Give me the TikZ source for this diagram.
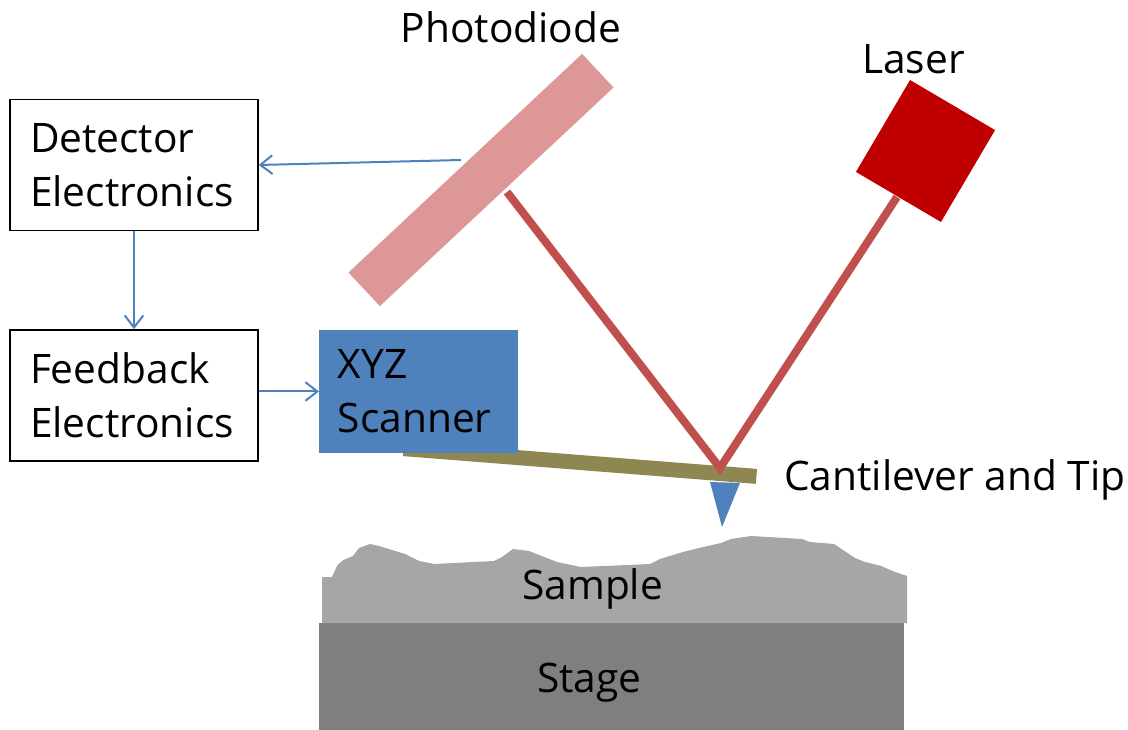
\documentclass[tikz,border=0pt]{standalone}
\usepackage{fontspec}
\setmainfont{Open Sans}
\usetikzlibrary{arrows.meta,calc}
\definecolor{boxblue}{HTML}{4F81BD}
\definecolor{beam}{HTML}{C0504D}
\definecolor{pdcol}{HTML}{DC9796}
\definecolor{lasercol}{HTML}{C00000}
\definecolor{cant}{HTML}{8F8752}
\definecolor{samplecol}{HTML}{A6A6A6}
\definecolor{stagecol}{HTML}{7F7F7F}
\tikzset{
  lbl/.style={inner sep=0pt,font=\fontsize{30.5}{40.5}\selectfont,text=black},
  ebox/.style={lbl,draw=black,line width=1.1pt,fill=white,minimum width=186pt,minimum height=98.5pt,align=left,text width=156pt},
  solid box/.style={inner sep=0pt,outer sep=0pt},
  conn/.style={draw=boxblue,line width=1.5pt,-{Straight Barb[length=9pt,width=14pt,line width=1.5pt]}},
  beamline/.style={draw=beam,line width=6pt},
}
\begin{document}
\begin{tikzpicture}[x=0.75pt,y=-0.75pt]
\useasboundingbox (0,0) rectangle (1128,730);
% stage and sample
\node[solid box,fill=stagecol,minimum width=438.75pt,minimum height=80.25pt] (stage) at (611.5,676.5) {};
\fill[samplecol] (322,577) -- (332,577) -- (337.5,565) -- (343.5,560) -- (353,556) -- (359,548) -- (370,544) -- (379,546) -- (405,554) -- (419,561) -- (434,564) -- (494,561) -- (502,557) -- (513,549) -- (529,551) -- (557,562) -- (581,567) -- (650,564) -- (660,559) -- (683,552) -- (699,548) -- (721,543) -- (731,539) -- (751,536) -- (802,539) -- (810,542) -- (834,544) -- (843,550) -- (855,558) -- (865,562) -- (881,566) -- (895,572) -- (907,576) -- (907,623) -- (322,623) -- cycle;
\node[lbl,anchor=base west] (samplelbl) at (522,599) {Sample};
\node[lbl,anchor=base west] (stagelbl) at (537,692) {Stage};
% cantilever, tip
\node[solid box,fill=cant,minimum width=265.5pt,minimum height=11.25pt,rotate=-4.5] (cantilever) at (580,462.5) {};
\fill[boxblue] (710,482) -- (740,483) -- (722,527) -- cycle;
% scanner
\node[lbl,solid box,fill=boxblue,minimum width=149.25pt,minimum height=92.25pt,align=left,text width=121pt] (scanner) at (418.5,391.5) {XYZ\\Scanner};
% photodiode and laser
\node[solid box,fill=pdcol,minimum width=240pt,minimum height=34.5pt,rotate=43.1] (photodiode) at (481,180) {};
\node[solid box,fill=lasercol,minimum width=74pt,minimum height=80pt,rotate=-30.5] (laser) at (925.5,151) {};
% beam
\coordinate (bpd) at (507,192);
\coordinate (bhit) at (720,468);
\coordinate (blas) at (897,197);
\draw[beamline,line join=miter] (bpd) -- (bhit) -- (blas);
% electronics
\node[ebox] (detector) at (134,165) {Detector\\Electronics};
\node[ebox] (feedback) at (134,395.5) {Feedback\\Electronics};
\coordinate (pdout) at (461,160);
\draw[conn] (pdout) -- (detector.east);
\draw[conn] (detector) -- (feedback);
\draw[conn] (feedback.east |- scanner.west) -- (scanner.west);
% labels
\node[lbl,anchor=base] (pdlbl) at (511,43) {Photodiode};
\node[lbl,anchor=base west] (laserlbl) at (862,74) {Laser};
\node[lbl,anchor=base west] (cantlbl) at (784,491) {Cantilever and Tip};
\end{tikzpicture}
\end{document}
